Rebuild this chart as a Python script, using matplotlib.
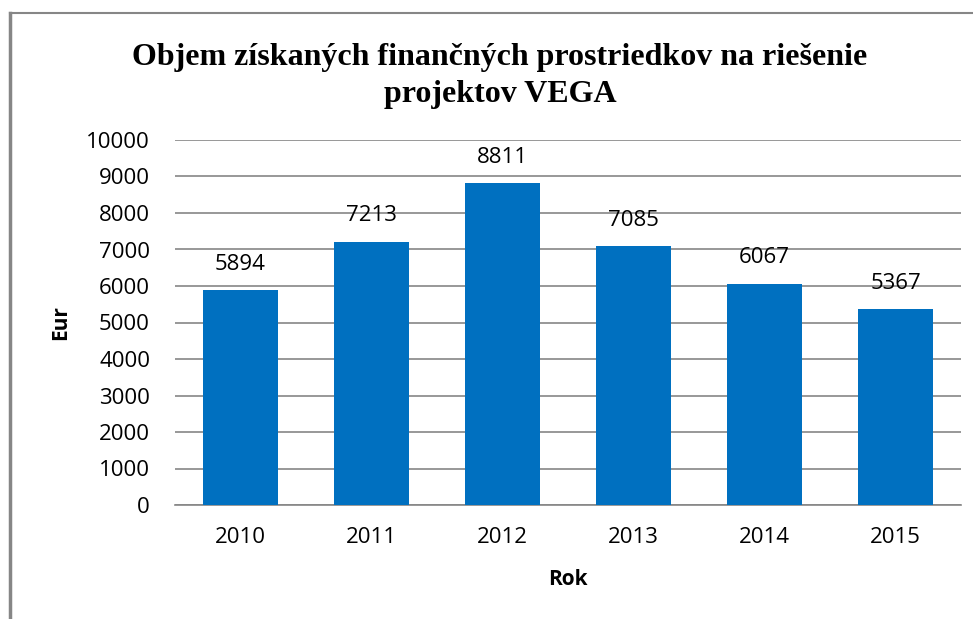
import numpy as np
import matplotlib.pyplot as plt
from matplotlib.lines import Line2D

# data
years = ['2010', '2011', '2012', '2013', '2014', '2015']
amounts = [5894, 7213, 8811, 7085, 6067, 5367]
yticks = list(range(0, 10001, 1000))

fig = plt.figure(figsize=(9.73, 6.19), dpi=100)
W, H = 973, 619

# plot area in pixels: x 175..961, y 140..505
ax = fig.add_axes([175 / W, 1 - 505 / H, (961 - 175) / W, (505 - 140) / H])

x = np.arange(len(years))
ax.bar(x, amounts, width=0.565, color='#0070C0', zorder=3)
for xi, v in zip(x, amounts):
    ax.annotate(str(v), (xi, v), xytext=(0, 11), textcoords='offset points',
                ha='center', va='bottom', fontsize=16, family='Open Sans')

ax.set_xlim(-0.5, len(years) - 0.5)
ax.set_ylim(0, 10000)
ax.set_yticks(yticks)
ax.set_xticks(x)
ax.set_xticklabels(years)
ax.grid(axis='y', color='#868686', linewidth=1.2, zorder=0)
for s in ['top', 'right', 'left']:
    ax.spines[s].set_visible(False)
ax.spines['bottom'].set_color('#868686')
ax.spines['bottom'].set_linewidth(1.2)
ax.tick_params(length=0, labelsize=16)
ax.tick_params(axis='y', pad=18)
ax.tick_params(axis='x', pad=16)
for lab in ax.get_xticklabels() + ax.get_yticklabels():
    lab.set_family('Open Sans')

ax.set_ylabel('Eur', fontsize=15, fontweight='bold', family='Open Sans', labelpad=11)
ax.set_xlabel('Rok', fontsize=15, fontweight='bold', family='Open Sans', labelpad=15)

fig.text(500 / W, 1 - 76 / H,
         'Objem získaných finančných prostriedkov na riešenie\nprojektov VEGA',
         ha='center', va='center', fontsize=23, fontweight='bold',
         family='Liberation Serif', linespacing=1.35)

# partial chart frame (top and left edges)
fig.add_artist(Line2D([10 / W, 1], [1 - 13 / H, 1 - 13 / H], color='#868686', linewidth=1.5))
fig.add_artist(Line2D([10 / W, 10 / W], [0, 1 - 13 / H], color='#868686', linewidth=2.5))

fig.savefig('out.png', dpi=100)
